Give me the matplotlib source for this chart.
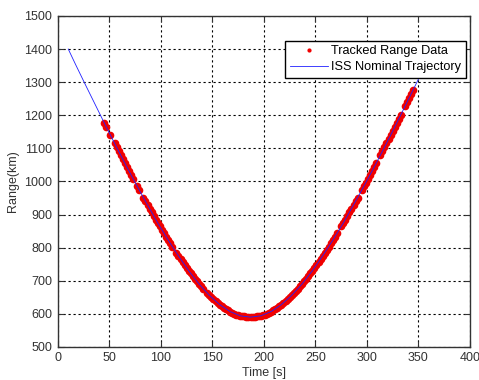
import matplotlib
matplotlib.use("Agg")
import matplotlib.pyplot as plt

plt.rcParams["font.family"] = ["Liberation Sans", "DejaVu Sans"]

# ISS nominal trajectory (time s, range km)
nominal_t = [10, 17, 27, 37, 47, 57, 67, 77, 87, 97, 107, 117, 127, 137, 147,
             157, 167, 177, 187, 197, 207, 217, 227, 237, 247, 257, 267, 277,
             287, 297, 307, 317, 327, 337, 347, 357, 362]
nominal_r = [1400, 1354, 1290, 1227, 1164, 1103, 1043, 985, 929, 874, 823, 775,
             730, 690, 656, 628, 607, 594, 590, 594, 607, 628, 656, 690, 730,
             775, 823, 874, 929, 985, 1043, 1103, 1164, 1227, 1290, 1354, 1386]

# tracked range samples (gaps where no track)
tracked_t = [45, 47, 51, 55, 57, 59, 61, 63, 65, 67, 69, 71, 73, 77, 79, 83, 85,
             87, 89, 91, 93, 95, 97, 99, 101, 103, 105, 107, 109, 111, 115, 117,
             119, 121, 123, 125, 127, 129, 131, 133, 135, 137, 139, 141, 145, 147,
             149, 151, 153, 155, 157, 159, 161, 163, 165, 167, 169, 171, 173, 175,
             177, 179, 181, 183, 185, 187, 189, 191, 193, 195, 197, 199, 201, 203,
             205, 207, 209, 211, 213, 215, 217, 219, 221, 223, 225, 227, 229, 231,
             233, 235, 237, 239, 241, 243, 245, 247, 249, 251, 253, 255, 257, 259,
             261, 263, 265, 267, 269, 271, 275, 277, 279, 281, 283, 285, 287, 289,
             291, 295, 297, 299, 301, 303, 305, 307, 309, 313, 315, 317, 319, 321,
             323, 325, 327, 329, 331, 333, 337, 339, 341, 343, 345]
tracked_r = [1177, 1164, 1140, 1115, 1103, 1091, 1079, 1067, 1055, 1043, 1031,
             1020, 1008, 985, 974, 951, 940, 929, 918, 907, 896, 885, 874, 864,
             853, 843, 833, 823, 813, 803, 784, 775, 765, 756, 747, 739, 730, 722,
             714, 706, 698, 690, 683, 676, 662, 656, 650, 644, 638, 633, 628, 623,
             619, 615, 611, 607, 604, 601, 598, 596, 594, 593, 592, 591, 590, 590,
             590, 591, 592, 593, 594, 596, 598, 601, 604, 607, 611, 615, 619, 623,
             628, 633, 638, 644, 650, 656, 662, 669, 676, 683, 690, 698, 706, 714,
             722, 730, 739, 747, 756, 765, 775, 784, 793, 803, 813, 823, 833, 843,
             864, 874, 885, 896, 907, 918, 929, 940, 951, 974, 985, 996, 1008, 1020,
             1031, 1043, 1055, 1079, 1091, 1103, 1115, 1127, 1140, 1152, 1164, 1177,
             1189, 1202, 1227, 1239, 1252, 1265, 1277]

x_ticks = list(range(0, 401, 50))
y_ticks = list(range(500, 1501, 100))

fig = plt.figure(figsize=(4.79, 3.80), dpi=100, facecolor="white")
ax = fig.add_axes([0.121, 0.087, 0.860, 0.871])

ax.plot(tracked_t, tracked_r, ls="none", marker="o", ms=5.5, mfc="#f00000",
        mec="none", color="#f00000", label="Tracked Range Data", zorder=3)
ax.plot(nominal_t, nominal_r, color="#2020ff", lw=0.6,
        label="ISS Nominal Trajectory", zorder=4)

ax.set_xlim(0, 400)
ax.set_ylim(500, 1500)
ax.set_xticks(x_ticks)
ax.set_yticks(y_ticks)
ax.grid(True, color="black", ls=(0, (2.0, 2.5)), lw=0.8)
ax.set_axisbelow(True)
ax.tick_params(direction="in", length=4, width=0.8, top=True, right=True,
               labelsize=9, labelcolor="#333333", color="#333333", pad=4)
for s in ax.spines.values():
    s.set_color("#333333")
    s.set_linewidth(1.0)

ax.set_xlabel("Time [s]", fontsize=9, color="#333333", labelpad=2)
ax.set_ylabel("Range(km)", fontsize=9, color="#333333", labelpad=4)

leg = ax.legend(loc="upper right", bbox_to_anchor=(0.99, 0.925), fontsize=9.2,
                fancybox=False, framealpha=1, edgecolor="black", markerscale=0.55,
                handlelength=3.0, handletextpad=0.25, borderpad=0.35,
                labelspacing=0.3, borderaxespad=0)
leg.get_frame().set_linewidth(1.0)

fig.savefig("out.png", dpi=100, facecolor="white")
